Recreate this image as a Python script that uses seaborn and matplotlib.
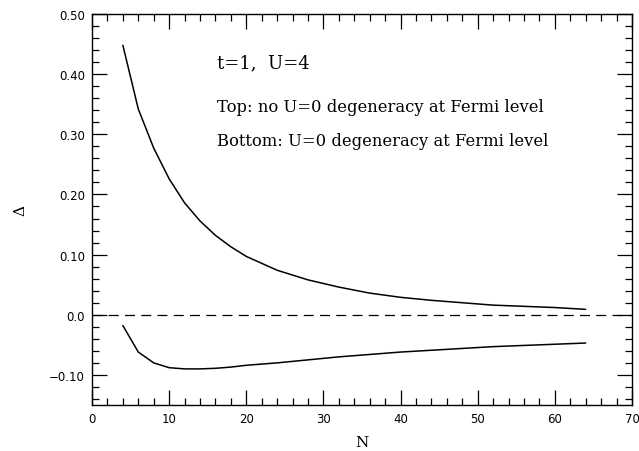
import numpy as np
import pandas as pd
import matplotlib
matplotlib.use("Agg")
import matplotlib.pyplot as plt
import seaborn as sns
from matplotlib.ticker import MultipleLocator, FixedFormatter, FixedLocator

sns.set_style("ticks")

N_vals = [4, 6, 8, 10, 12, 14, 16, 18, 20, 24, 28, 32, 36, 40, 44, 48, 52, 56, 60, 64]
top_vals = [0.448, 0.342, 0.277, 0.226, 0.186, 0.156, 0.132, 0.113, 0.097, 0.074,
            0.058, 0.046, 0.036, 0.029, 0.024, 0.020, 0.016, 0.014, 0.012, 0.009]
bottom_vals = [-0.018, -0.062, -0.080, -0.088, -0.090, -0.090, -0.089, -0.087, -0.084, -0.080,
               -0.075, -0.070, -0.066, -0.062, -0.059, -0.056, -0.053, -0.051, -0.049, -0.047]

x_ticks = [0, 10, 20, 30, 40, 50, 60, 70]
x_labels = ["0", "10", "20", "30", "40", "50", "60", "70"]
y_ticks = [-0.10, 0.0, 0.10, 0.20, 0.30, 0.40, 0.50]
y_labels = ["\u22120.10", "0.0", "0.10", "0.20", "0.30", "0.40", "0.50"]

df = pd.DataFrame({
    "N": N_vals * 2,
    "delta": top_vals + bottom_vals,
    "series": ["top"] * len(N_vals) + ["bottom"] * len(N_vals),
})

fig = plt.figure(figsize=(6.39, 4.52), dpi=100)
ax = fig.add_axes([0.144, 0.1018, 0.845, 0.865])

sns.lineplot(data=df, x="N", y="delta", units="series", estimator=None,
             color="black", lw=1.1, ax=ax, legend=False, sort=False)
ax.axhline(0.0, color="black", lw=0.9, dashes=(8, 5))

ax.set_xlim(0, 70)
ax.set_ylim(-0.15, 0.50)
ax.xaxis.set_major_locator(FixedLocator(x_ticks))
ax.xaxis.set_major_formatter(FixedFormatter(x_labels))
ax.yaxis.set_major_locator(FixedLocator(y_ticks))
ax.yaxis.set_major_formatter(FixedFormatter(y_labels))
ax.xaxis.set_minor_locator(MultipleLocator(2))
ax.yaxis.set_minor_locator(MultipleLocator(0.02))
ax.tick_params(which="both", direction="in", top=True, right=True, width=0.9,
               color="black", labelcolor="black")
ax.tick_params(which="major", length=11, labelsize=8.5, pad=5)
ax.tick_params(which="minor", length=5)
for lab in ax.get_xticklabels() + ax.get_yticklabels():
    lab.set_family("DejaVu Sans")
for s in ax.spines.values():
    s.set_linewidth(1.0)
    s.set_color("black")

ax.set_xlabel("N", family="DejaVu Serif", fontsize=11, labelpad=7, color="black")
ax.set_ylabel("\u0394", family="DejaVu Serif", fontsize=11, labelpad=16, color="black")

ax.text(16.2, 0.42, "t=1,  U=4", family="DejaVu Serif", fontsize=13, va="center", color="black")
ax.text(16.2, 0.347, "Top: no U=0 degeneracy at Fermi level", family="DejaVu Serif",
        fontsize=11.8, va="center", color="black")
ax.text(16.2, 0.289, "Bottom: U=0 degeneracy at Fermi level", family="DejaVu Serif",
        fontsize=11.8, va="center", color="black")

fig.savefig("out.png", dpi=100)
